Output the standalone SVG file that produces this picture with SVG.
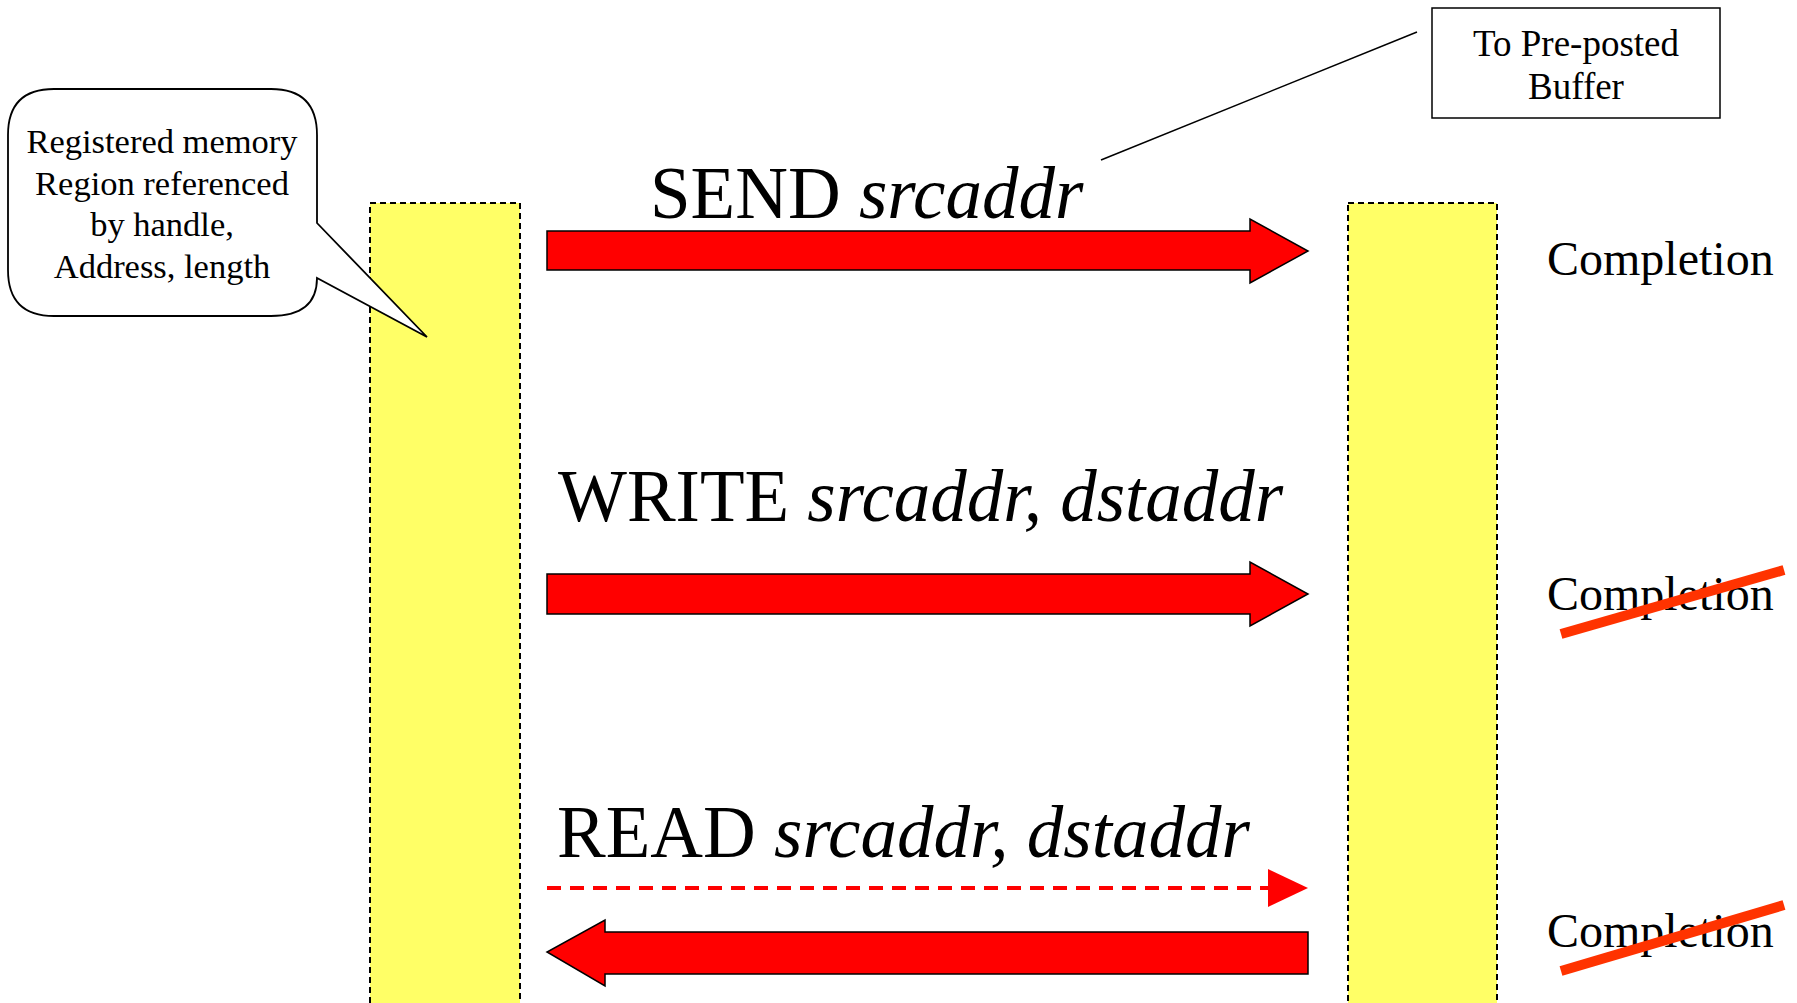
<svg xmlns="http://www.w3.org/2000/svg" width="1797" height="1003" viewBox="0 0 1797 1003">
  <style>
    .bar { fill: #FFFF66; stroke: #000; stroke-width: 2; stroke-dasharray: 6 4; }
    .arrow { fill: #FF0000; stroke: #000; stroke-width: 1.5; stroke-linejoin: miter; }
    .serif { font-family: "Liberation Serif", "Times New Roman", serif; fill: #000; }
    .op { font-size: 73px; }
    .note { font-size: 34.5px; text-anchor: middle; }
    .boxnote { font-size: 37px; text-anchor: middle; }
    .done { font-size: 48px; }
    .strike { stroke: #FF3300; stroke-width: 10; }
    .it { font-style: italic; }
  </style>
  <rect width="1797" height="1003" fill="#fff"/>

  <!-- memory regions -->
  <g id="initiator-region">
    <rect class="bar" x="370" y="203" width="150" height="805"/>
  </g>
  <g id="target-region">
    <rect class="bar" x="1348" y="203" width="149" height="805"/>
  </g>

  <!-- callout describing the registered region -->
  <g id="callout">
    <path d="M54 89 H271 Q317 89 317 135 V223 L427 337 L317 278 Q317 316 271 316 H54 Q8 316 8 270 V135 Q8 89 54 89 Z" fill="#fff" stroke="#000" stroke-width="1.8"/>
    <text class="serif note" x="162" y="153">Registered memory</text>
    <text class="serif note" x="162" y="195">Region referenced</text>
    <text class="serif note" x="162" y="236">by handle,</text>
    <text class="serif note" x="162" y="278">Address, length</text>
  </g>

  <!-- pre-posted buffer note -->
  <g id="buffer-note">
    <rect x="1432" y="8" width="288" height="110" fill="#fff" stroke="#000" stroke-width="1.5"/>
    <text class="serif boxnote" x="1576" y="56">To Pre-posted</text>
    <text class="serif boxnote" x="1576" y="99">Buffer</text>
  </g>

  <g id="connectors">
    <line x1="1101" y1="160" x2="1417" y2="32" stroke="#000" stroke-width="1.5"/>
    <!-- SEND -->
    <path class="arrow" d="M547 231 H1250 V219 L1308 251 L1250 283 V270 H547 Z"/>
    <!-- WRITE -->
    <path class="arrow" d="M547 574 H1250 V562 L1308 594 L1250 626 V614 H547 Z"/>
    <!-- READ request -->
    <line x1="547" y1="888" x2="1268" y2="888" stroke="#FF0000" stroke-width="4" stroke-dasharray="14 9"/>
    <polygon points="1268,869 1308,888 1268,907" fill="#FF0000"/>
    <!-- READ response -->
    <path class="arrow" d="M1308 932 H605 V920 L547 952 L605 986 V974 H1308 Z"/>
  </g>

  <!-- operation labels -->
  <g id="send-label">
    <text class="serif op" x="650" y="218">SEND <tspan class="it">srcaddr</tspan></text>
  </g>
  <g id="write-label">
    <text class="serif op" x="558" y="521">WRITE <tspan class="it">srcaddr, dstaddr</tspan></text>
  </g>
  <g id="read-label">
    <text class="serif op" x="557" y="857">READ <tspan class="it">srcaddr, dstaddr</tspan></text>
  </g>

  <!-- completion markers -->
  <g id="send-completion">
    <text class="serif done" x="1547" y="275">Completion</text>
  </g>
  <g id="write-completion">
    <text class="serif done" x="1547" y="610">Completion</text>
    <line class="strike" x1="1561" y1="634" x2="1784" y2="570"/>
  </g>
  <g id="read-completion">
    <text class="serif done" x="1547" y="947">Completion</text>
    <line class="strike" x1="1561" y1="971" x2="1784" y2="905"/>
  </g>
</svg>
